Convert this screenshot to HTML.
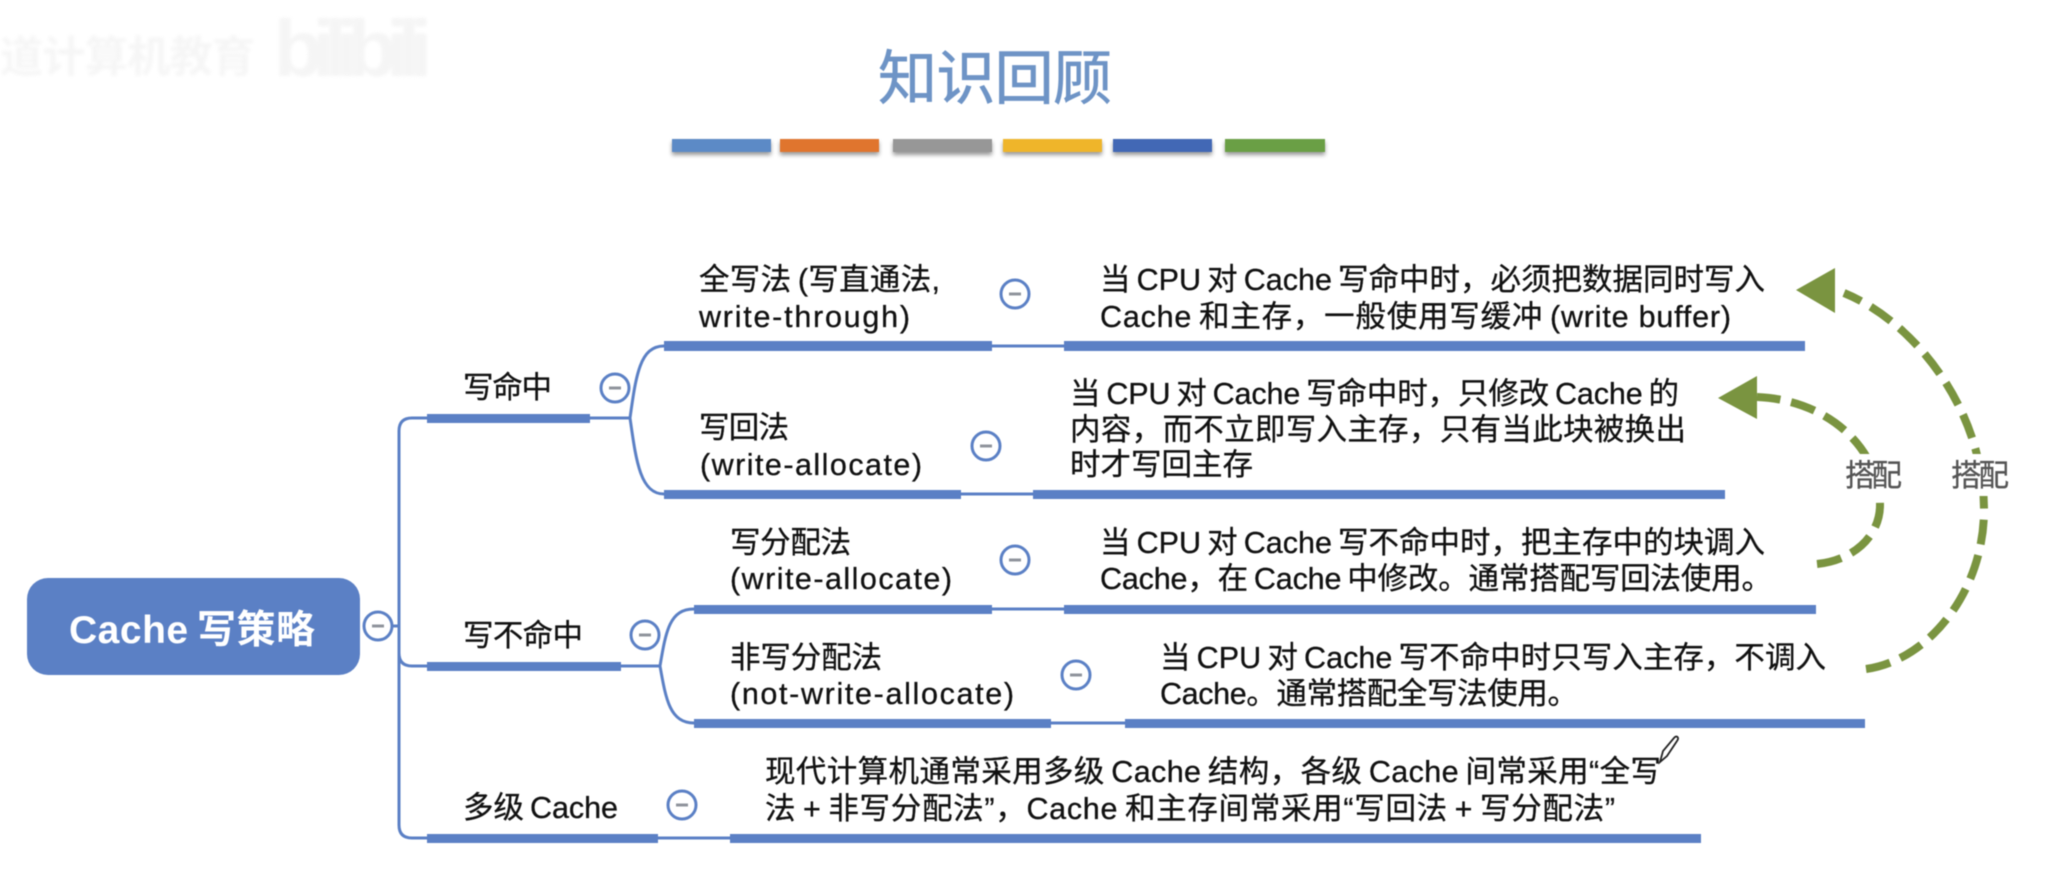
<!DOCTYPE html>
<html lang="zh"><head><meta charset="utf-8"><title>知识回顾</title>
<style>
html,body{margin:0;padding:0;background:#fff;width:2048px;height:885px;overflow:hidden}
svg{display:block;position:absolute;left:0;top:0;filter:blur(.5px)}
text{font-family:"Liberation Sans","Noto Sans CJK SC",sans-serif;font-size:30.5px;fill:#111;stroke:#111;stroke-width:.3px}
.b{fill:#5b80c5}
.c{fill:none;stroke:#5b80c5;stroke-width:3}
.g{fill:none;stroke:#7a9440;stroke-width:8;stroke-dasharray:25 11}
.o{fill:#fff;stroke:#5b80c5;stroke-width:3}
.m{stroke:#8f949c;stroke-width:3}
</style></head><body>
<svg width="2048" height="885" viewBox="0 0 2048 885" xmlns="http://www.w3.org/2000/svg">
<defs>
<filter id="s" x="-10%" y="-50%" width="120%" height="220%"><feDropShadow dx="0" dy="3" stdDeviation="2" flood-color="#000" flood-opacity=".4"/></filter>
<filter id="w" x="-5%" y="-30%" width="110%" height="160%"><feGaussianBlur stdDeviation="1.5"/></filter>
</defs>
<!-- watermark -->
<g filter="url(#w)">
<text x="0" y="72" textLength="255" style="font-size:43px;fill:#f6f6f6;stroke:none;font-weight:bold">道计算机教育</text>
<text x="274" y="76" textLength="158" style="font-size:80px;fill:#f5f5f5;stroke:none;font-weight:bold">bilibili</text>
</g>
<!-- title -->
<text x="878" y="99" textLength="234" style="font-size:59px;fill:#6e94c6;stroke:#6e94c6;stroke-width:.7px">知识回顾</text>
<g filter="url(#s)">
<rect x="672" y="139" width="99" height="13" fill="#5b8ac6"/>
<rect x="780" y="139" width="99" height="13" fill="#e0752f"/>
<rect x="893" y="139" width="99" height="13" fill="#979797"/>
<rect x="1003" y="139" width="99" height="13" fill="#efb52b"/>
<rect x="1113" y="139" width="99" height="13" fill="#4267b5"/>
<rect x="1225" y="139" width="100" height="13" fill="#6b9f45"/>
</g>
<!-- connectors -->
<path class="c" d="M393 626H399M427 418H412Q399 418 399 431V825Q399 838 412 838H427M399 653Q399 666 412 666H427"/>
<path class="c" d="M590 418H630M664 346C640 346 636 375 630 418C636 460 640 494 664 494"/>
<path class="c" d="M621 666H660M694 609C670 609 666 630 660 666C666 700 670 723 694 723"/>
<path class="c" d="M991 346H1064M961 494H1033M991 609H1064M1051 723H1125M658 838H730"/>
<!-- bars -->
<rect class="b" x="427" y="414" width="163" height="9"/>
<rect class="b" x="427" y="662" width="194" height="9"/>
<rect class="b" x="427" y="834" width="231" height="9"/>
<rect class="b" x="664" y="341" width="328" height="10"/>
<rect class="b" x="664" y="490" width="297" height="9"/>
<rect class="b" x="694" y="605" width="298" height="9"/>
<rect class="b" x="694" y="719" width="357" height="9"/>
<rect class="b" x="1064" y="341" width="741" height="10"/>
<rect class="b" x="1033" y="490" width="692" height="9"/>
<rect class="b" x="1064" y="605" width="752" height="9"/>
<rect class="b" x="1125" y="719" width="740" height="9"/>
<rect class="b" x="730" y="834" width="971" height="9"/>
<!-- root -->
<rect x="27" y="578" width="333" height="97" rx="21" fill="#5b80c5"/>
<text x="69" y="643" textLength="246" style="font-size:39px;font-weight:bold;fill:#fff;stroke:none">Cache&#8201;写策略</text>
<!-- circles -->
<g>
<circle class="o" cx="378" cy="626" r="14"/><path class="m" d="M372 626h12"/>
<circle class="o" cx="615" cy="388" r="14"/><path class="m" d="M609 388h12"/>
<circle class="o" cx="645" cy="635" r="14"/><path class="m" d="M639 635h12"/>
<circle class="o" cx="682" cy="805" r="14"/><path class="m" d="M676 805h12"/>
<circle class="o" cx="1015" cy="294" r="14"/><path class="m" d="M1009 294h12"/>
<circle class="o" cx="986" cy="446" r="14"/><path class="m" d="M980 446h12"/>
<circle class="o" cx="1015" cy="560" r="14"/><path class="m" d="M1009 560h12"/>
<circle class="o" cx="1076" cy="675" r="14"/><path class="m" d="M1070 675h12"/>
</g>
<!-- left labels -->
<text x="463" y="398" textLength="89">写命中</text>
<text x="463" y="646" textLength="120">写不命中</text>
<text x="463" y="818" textLength="155">多级&#8201;Cache</text>
<text x="699" y="290" textLength="241">全写法&#8201;(写直通法,</text>
<text x="699" y="327" textLength="211">write-through)</text>
<text x="699" y="438" textLength="90">写回法</text>
<text x="700" y="475" textLength="222">(write-allocate)</text>
<text x="730" y="553" textLength="121">写分配法</text>
<text x="730" y="589" textLength="222">(write-allocate)</text>
<text x="730" y="668" textLength="152">非写分配法</text>
<text x="730" y="704" textLength="284">(not-write-allocate)</text>
<!-- right text -->
<text x="1100" y="290" textLength="665">当&#8201;CPU&#8201;对&#8201;Cache&#8201;写命中时&#65292;必须把数据同时写入</text>
<text x="1100" y="327" textLength="631">Cache&#8201;和主存&#65292;一般使用写缓冲&#8201;(write buffer)</text>
<text x="1070" y="404" textLength="609">当&#8201;CPU&#8201;对&#8201;Cache&#8201;写命中时&#65292;只修改&#8201;Cache&#8201;的</text>
<text x="1070" y="440" textLength="616">内容&#65292;而不立即写入主存&#65292;只有当此块被换出</text>
<text x="1070" y="475" textLength="183">时才写回主存</text>
<text x="1100" y="553" textLength="665">当&#8201;CPU&#8201;对&#8201;Cache&#8201;写不命中时&#65292;把主存中的块调入</text>
<text x="1100" y="589" textLength="672">Cache&#65292;在&#8201;Cache&#8201;中修改。通常搭配写回法使用。</text>
<text x="1160" y="668" textLength="666">当&#8201;CPU&#8201;对&#8201;Cache&#8201;写不命中时只写入主存&#65292;不调入</text>
<text x="1160" y="704" textLength="418">Cache。通常搭配全写法使用。</text>
<text x="765" y="782" textLength="896">现代计算机通常采用多级&#8201;Cache&#8201;结构&#65292;各级&#8201;Cache&#8201;间常采用“全写</text>
<text x="765" y="819" textLength="850">法&#8201;+&#8201;非写分配法”&#65292;Cache&#8201;和主存间常采用“写回法&#8201;+&#8201;写分配法”</text>
<!-- green arrows -->
<path class="g" d="M1866 669C1930 660 1984 590 1984 510C1984 410 1915 322 1844 293"/>
<path d="M1796 290L1835 268V313Z" fill="#7a9440"/>
<path class="g" d="M1817 564C1855 560 1880 535 1880 505C1880 450 1830 400 1757 397"/>
<path d="M1718 398L1757 376V419Z" fill="#7a9440"/>
<rect x="1840" y="454" width="68" height="42" fill="#fff"/>
<rect x="1946" y="454" width="68" height="42" fill="#fff"/>
<text x="1845" y="486" textLength="57" style="fill:#555;stroke:#555">搭配</text>
<text x="1951" y="486" textLength="58" style="fill:#555;stroke:#555">搭配</text>
<!-- pencil -->
<path d="M1660 762L1663 751L1674 738C1676 735 1680 737 1677 741L1667 756Z" fill="#fff" stroke="#222" stroke-width="1.8"/>
</svg>
</body></html>
